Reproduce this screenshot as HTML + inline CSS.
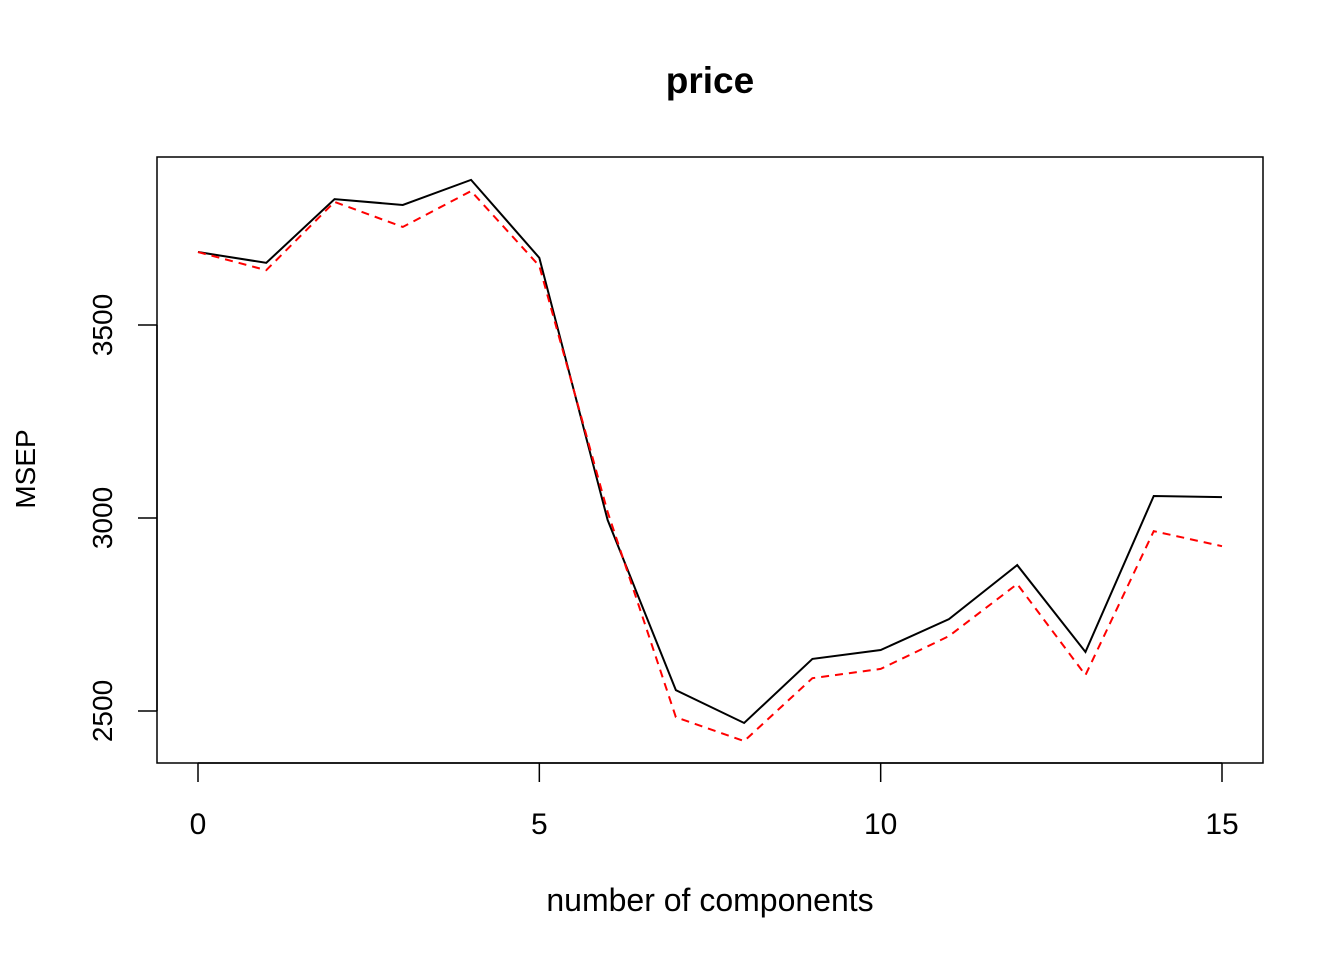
<!DOCTYPE html>
<html><head><meta charset="utf-8"><style>
html,body{margin:0;padding:0;background:#fff;}
svg{display:block;font-family:"Liberation Sans",sans-serif;}
</style></head><body>
<svg id="chart" width="1344" height="960">
<text x="710" y="93" text-anchor="middle" font-size="37" font-weight="bold">price</text>
<rect x="157" y="157" width="1106" height="606" fill="none" stroke="#000" stroke-width="1.5"/>
<text x="710" y="911" text-anchor="middle" font-size="32">number of components</text>
<text transform="translate(35,469) rotate(-90)" text-anchor="middle" font-size="28">MSEP</text>
<g id="axes"></g>
<g id="series"></g>
</svg>
<script>
const components = [0,1,2,3,4,5,6,7,8,9,10,11,12,13,14,15];
const cvValues = [3689,3661,3826,3811,3876,3674,2995,2554,2469,2635,2658,2738,2878,2653,3057,3054];
const adjCvValues = [3689,3642,3819,3754,3847,3653,3016,2484,2422,2585,2609,2694,2829,2593,2966,2927];
const xTicks = [0,5,10,15];
const yTicks = [2500,3000,3500];

const NS = "http://www.w3.org/2000/svg";
function sx(v){ return 198 + (v-0)*(1222-198)/15; }
function sy(v){ return 518 - (v-3000)*0.386; }
function mk(tag, attrs, parent){
  const e = document.createElementNS(NS, tag);
  for (const k in attrs) e.setAttribute(k, attrs[k]);
  parent.appendChild(e); return e;
}
const axes = document.getElementById('axes');
const xl = mk('line',{x1:sx(xTicks[0]),x2:sx(xTicks[xTicks.length-1]),y1:763,y2:763,stroke:'#000','stroke-width':1.5},axes);


xTicks.forEach(t=>{
  const l = mk('line',{x1:sx(t),x2:sx(t),y1:763,y2:782,stroke:'#000','stroke-width':1.5},axes);
  
  
  const tx = mk('text',{x:sx(t),y:834,'text-anchor':'middle','font-size':30},axes);
  tx.textContent = t;
  
  
});
const yl = mk('line',{x1:157,x2:157,y1:sy(yTicks[0]),y2:sy(yTicks[yTicks.length-1]),stroke:'#000','stroke-width':1.5},axes);


yTicks.forEach(t=>{
  const l = mk('line',{x1:138,x2:157,y1:sy(t),y2:sy(t),stroke:'#000','stroke-width':1.5},axes);
  
  
  const tx = mk('text',{x:0,y:0,'text-anchor':'middle','font-size':28,transform:`translate(112,${sy(t)}) rotate(-90)`},axes);
  tx.textContent = t;
  
  
});
const series = document.getElementById('series');
function pts(vals){ return components.map((c,i)=>sx(c)+','+sy(vals[i])).join(' '); }
const cv = mk('polyline',{points:pts(cvValues),fill:'none',stroke:'#000','stroke-width':2},series);


const adj = mk('polyline',{points:pts(adjCvValues),fill:'none',stroke:'#ff0000','stroke-width':2,'stroke-dasharray':'8,6'},series);


</script>
</body></html>
